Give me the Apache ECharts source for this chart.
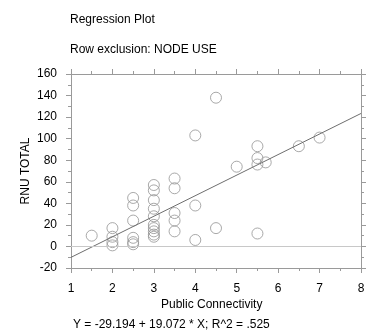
<!DOCTYPE html>
<html>
<head>
<meta charset="utf-8">
<script src="https://cdn.jsdelivr.net/npm/echarts@6/dist/echarts.min.js"></script>
<style>html,body{margin:0;padding:0;background:#fff}#c{width:374px;height:332px}</style>
</head>
<body>
<div id="c"></div>
<script>
var xValues = [1.5, 2, 2, 2, 2, 2.5, 2.5, 2.5, 2.5, 2.5, 2.5,
  3, 3, 3, 3, 3, 3, 3, 3, 3, 3,
  3.5, 3.5, 3.5, 3.5, 3.5, 4, 4, 4, 4.5, 4.5, 5,
  5.5, 5.5, 5.5, 5.5, 5.7, 6.5, 7];
var yValues = [10, 17, 9, 4, 1, 45, 38, 24, 8, 4, 2,
  57, 52, 43, 35, 28, 20, 17, 14, 11, 9,
  63, 54, 31, 24, 14, 103, 38, 6, 138, 17, 74,
  93, 82, 76, 12, 78, 93, 101];
var regCoef = [-29.194, 19.072]; // intercept, slope
var regXRange = [1, 8];
var xTicks = [1, 8, 1];
var yTicks = [-20, 160, 20];
var titleText = 'Regression Plot';
var subText = 'Row exclusion: NODE USE';
var xName = 'Public Connectivity';
var yName = 'RNU TOTAL';
var eqText = 'Y = -29.194 + 19.072 * X; R^2 = .525';

var pts = xValues.map(function (x, i) { return [x, yValues[i]]; });
var regLine = regXRange.map(function (x) { return [x, regCoef[0] + regCoef[1] * x]; });

var font = 'Liberation Sans, Arial, Helvetica, sans-serif';
var axisCol = '#9a9a9a';
function xa(pos, show) {
  return {
    type: 'value', position: pos, min: xTicks[0], max: xTicks[1], interval: xTicks[2],
    axisLine: {show: true, onZero: false, lineStyle: {color: axisCol}},
    axisTick: {show: true, inside: false, length: 5, lineStyle: {color: axisCol}},
    minorTick: {show: true, splitNumber: 2, length: 3, lineStyle: {color: axisCol}},
    axisLabel: {show: show, color: '#000', fontSize: 12, fontFamily: font, margin: 15},
    splitLine: {show: false}
  };
}
function ya(pos, show) {
  return {
    type: 'value', position: pos, min: yTicks[0], max: yTicks[1], interval: yTicks[2],
    name: show ? yName : '', nameLocation: 'middle', nameGap: 39, nameMoveOverlap: false,
    nameTextStyle: {color: '#000', fontSize: 12, fontFamily: font},
    axisLine: {show: true, onZero: false, lineStyle: {color: axisCol}},
    axisTick: {show: true, inside: false, length: 5, lineStyle: {color: axisCol}},
    minorTick: {show: true, splitNumber: 2, length: 3, lineStyle: {color: axisCol}},
    axisLabel: {show: show, color: '#000', fontSize: 12, fontFamily: font, margin: 14},
    splitLine: {show: false}
  };
}
var chart = echarts.init(document.getElementById('c'), null, {renderer: 'canvas'});
chart.setOption({
  animation: false,
  backgroundColor: '#fff',
  title: [
    {text: titleText, left: 65, top: 9, textStyle: {fontSize: 12, fontWeight: 'normal', color: '#000', fontFamily: font}},
    {text: subText, left: 65, top: 39, textStyle: {fontSize: 12, fontWeight: 'normal', color: '#000', fontFamily: font}},
    {text: eqText, left: 68, top: 314, textStyle: {fontSize: 12, fontWeight: 'normal', color: '#000', fontFamily: font}}
  ],
  graphic: [
    {type: 'text', left: 161, top: 299, style: {text: xName, fill: '#000', font: '12px ' + font}}
  ],
  grid: {left: 71, right: 13, top: 74, bottom: 64, containLabel: false},
  xAxis: [xa('bottom', true), xa('top', false)],
  yAxis: [ya('left', true), ya('right', false)],
  series: [
    {
      type: 'scatter', data: pts, symbol: 'circle', symbolSize: 11,
      itemStyle: {color: 'rgba(0,0,0,0)', borderColor: '#939393', borderWidth: 1},
      markLine: {
        silent: true, symbol: 'none', label: {show: false},
        lineStyle: {color: '#c8c8c8', width: 1, type: 'solid'},
        data: [{yAxis: 0}]
      },
      z: 3
    },
    {
      type: 'line', data: regLine, symbol: 'none', clip: true,
      lineStyle: {color: '#6e6e6e', width: 1}, z: 4
    }
  ]
});
</script>
</body>
</html>
